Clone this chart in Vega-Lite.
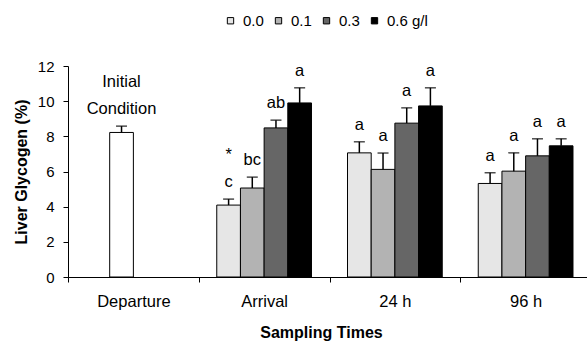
{
  "$schema": "https://vega.github.io/schema/vega-lite/v6.json",
  "width": 523,
  "height": 211,
  "autosize": "none",
  "padding": {"left": 68, "top": 66, "right": 0, "bottom": 65},
  "background": "white",
  "config": {
    "view": {"stroke": null},
    "font": "Liberation Sans",
    "axisY": {
      "grid": false,
      "labelOverlap": false,
      "tickSize": 5,
      "tickColor": "black",
      "domainColor": "black",
      "labelColor": "black",
      "labelFontSize": 15,
      "labelPadding": 9,
      "titleFontSize": 16,
      "titleFontWeight": "bold",
      "titleColor": "black",
      "titlePadding": 8
    }
  },
  "data": {
    "values": [
      {"time": "Departure", "series": "0.1", "mean": 8.22, "upper": 8.58, "label": "Condition", "star": "Initial"},
      {"time": "Arrival", "series": "0.0", "mean": 4.09, "upper": 4.43, "label": "c", "star": "*"},
      {"time": "Arrival", "series": "0.1", "mean": 5.06, "upper": 5.68, "label": "bc", "star": ""},
      {"time": "Arrival", "series": "0.3", "mean": 8.48, "upper": 8.92, "label": "ab", "star": ""},
      {"time": "Arrival", "series": "0.6 g/l", "mean": 9.9, "upper": 10.76, "label": "a", "star": ""},
      {"time": "24 h", "series": "0.0", "mean": 7.06, "upper": 7.69, "label": "a", "star": ""},
      {"time": "24 h", "series": "0.1", "mean": 6.12, "upper": 7.05, "label": "a", "star": ""},
      {"time": "24 h", "series": "0.3", "mean": 8.75, "upper": 9.62, "label": "a", "star": ""},
      {"time": "24 h", "series": "0.6 g/l", "mean": 9.73, "upper": 10.76, "label": "a", "star": ""},
      {"time": "96 h", "series": "0.0", "mean": 5.32, "upper": 5.93, "label": "a", "star": ""},
      {"time": "96 h", "series": "0.1", "mean": 6.02, "upper": 7.06, "label": "a", "star": ""},
      {"time": "96 h", "series": "0.3", "mean": 6.89, "upper": 7.86, "label": "a", "star": ""},
      {"time": "96 h", "series": "0.6 g/l", "mean": 7.46, "upper": 7.86, "label": "a", "star": ""}
    ]
  },
  "encoding": {
    "x": {
      "field": "time",
      "type": "nominal",
      "sort": ["Departure", "Arrival", "24 h", "96 h"],
      "scale": {"paddingInner": 0, "paddingOuter": 0},
      "title": "Sampling Times",
      "axis": {
        "labelAngle": 0,
        "tickBand": "extent",
        "tickSize": 5,
        "tickColor": "black",
        "domainColor": "black",
        "labelColor": "black",
        "labelFontSize": 16.5,
        "labelPadding": 11,
        "titleFontSize": 16,
        "titleFontWeight": "bold",
        "titleColor": "black",
        "titlePadding": 15,
        "titleX": 253
      }
    },
    "xOffset": {
      "field": "series",
      "type": "nominal",
      "scale": {"domain": ["0.0", "0.1", "0.3", "0.6 g/l"], "paddingInner": 0, "paddingOuter": 0.76}
    }
  },
  "layer": [
    {
      "mark": {"type": "bar", "stroke": "black", "strokeWidth": 1},
      "encoding": {
        "y": {
          "field": "mean",
          "type": "quantitative",
          "scale": {"domain": [0, 12]},
          "title": "Liver Glycogen (%)",
          "axis": {"values": [0, 2, 4, 6, 8, 10, 12], "labelOverlap": false, "labelFontSize": 15}
        },
        "fill": {
          "condition": {"test": "datum.time === 'Departure'", "value": "white"},
          "field": "series",
          "type": "nominal",
          "scale": {"domain": ["0.0", "0.1", "0.3", "0.6 g/l"], "range": ["#e6e6e6", "#b3b3b3", "#666666", "#000000"]},
          "legend": {
            "orient": "none",
            "legendX": 155,
            "legendY": -53,
            "direction": "horizontal",
            "title": null,
            "symbolType": "square",
            "symbolSize": 40,
            "symbolStrokeColor": "black",
            "symbolStrokeWidth": 1,
            "labelFontSize": 15,
            "labelColor": "black",
            "labelOffset": 5,
            "columnPadding": 7
          }
        }
      }
    },
    {
      "mark": {"type": "rule", "color": "black", "strokeWidth": 1.5},
      "encoding": {
        "y": {"field": "mean", "type": "quantitative", "title": "Liver Glycogen (%)", "axis": {"values": [0, 2, 4, 6, 8, 10, 12], "labelOverlap": false, "labelFontSize": 15}},
        "y2": {"field": "upper"}
      }
    },
    {
      "mark": {"type": "tick", "orient": "horizontal", "color": "black", "size": 11, "thickness": 1.5},
      "encoding": {
        "y": {"field": "upper", "type": "quantitative", "title": "Liver Glycogen (%)", "axis": {"values": [0, 2, 4, 6, 8, 10, 12], "labelOverlap": false, "labelFontSize": 15}}
      }
    },
    {
      "mark": {"type": "text", "dy": -17, "fontSize": 16.5, "color": "black"},
      "encoding": {
        "y": {"field": "upper", "type": "quantitative", "title": "Liver Glycogen (%)", "axis": {"values": [0, 2, 4, 6, 8, 10, 12], "labelOverlap": false, "labelFontSize": 15}},
        "text": {"field": "label"}
      }
    },
    {
      "mark": {"type": "text", "dy": -44, "fontSize": 16.5, "color": "black"},
      "encoding": {
        "y": {"field": "upper", "type": "quantitative", "title": "Liver Glycogen (%)", "axis": {"values": [0, 2, 4, 6, 8, 10, 12], "labelOverlap": false, "labelFontSize": 15}},
        "text": {"field": "star"}
      }
    }
  ]
}
